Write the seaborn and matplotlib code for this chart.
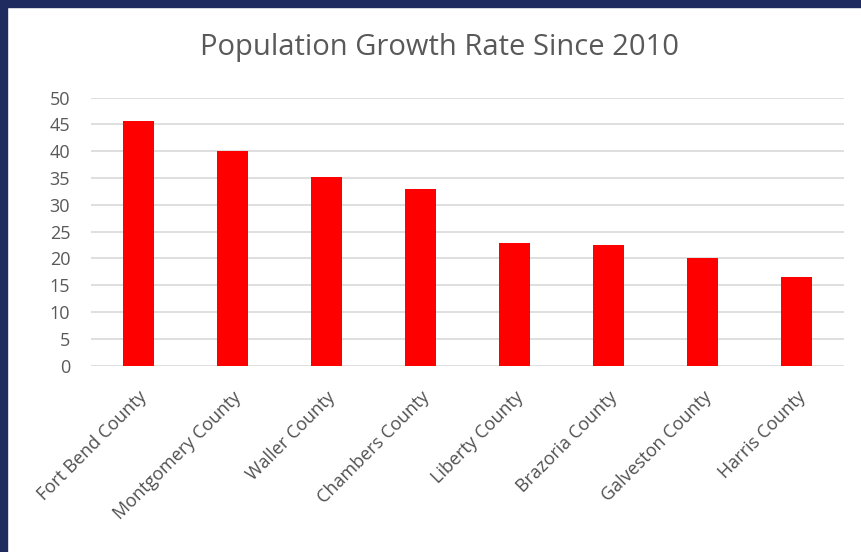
import matplotlib
matplotlib.use("Agg")
import matplotlib.pyplot as plt
import seaborn as sns
import pandas as pd
from matplotlib.patches import Rectangle

counties = ["Fort Bend County", "Montgomery County", "Waller County", "Chambers County",
            "Liberty County", "Brazoria County", "Galveston County", "Harris County"]
growth = [45.7, 40.1, 35.1, 33.0, 22.9, 22.6, 20.1, 16.5]
yticks = [0, 5, 10, 15, 20, 25, 30, 35, 40, 45, 50]

df = pd.DataFrame({"county": counties, "growth": growth})

sns.set_theme(style="white")
plt.rcParams["font.family"] = ["Open Sans", "DejaVu Sans"]

fig = plt.figure(figsize=(8.61, 5.52), dpi=100)
fig.patch.set_facecolor("white")
ax = fig.add_axes([91/861, 1-365.7/552, (844-91)/861, (365.7-97.6)/552])

sns.barplot(data=df, x="county", y="growth", color="#FF0000", saturation=1,
            width=0.33, ax=ax, edgecolor="none")

ax.set_ylim(0, 50)
ax.set_xlim(-0.5, len(counties)-0.5)
ax.set_yticks(yticks)
ax.set_yticklabels([str(v) for v in yticks], fontsize=13, color="#595959")
ax.yaxis.grid(True, color="#D9D9D9", linewidth=1.2)
ax.set_axisbelow(True)
for s in ax.spines.values():
    s.set_visible(False)
ax.tick_params(axis="both", length=0)
ax.tick_params(axis="y", pad=15)
ax.set_xlabel("")
ax.set_ylabel("")
ax.set_xticks(range(len(counties)))
ax.set_xticklabels(counties, rotation=45, ha="right", rotation_mode="anchor",
                   fontsize=13, color="#505050")
ax.tick_params(axis="x", pad=16)

fig.text(0.511, 1-47/552, "Population Growth Rate Since 2010", ha="center", va="center",
         fontsize=21, color="#595959")

navy = "#1F2A5E"
fig.patches.append(Rectangle((0, 0), 7/861, 1, transform=fig.transFigure, color=navy, zorder=10))
fig.patches.append(Rectangle((0, 1-7/552), 1, 7/552, transform=fig.transFigure, color=navy, zorder=10))

fig.savefig("out.png", dpi=100)
